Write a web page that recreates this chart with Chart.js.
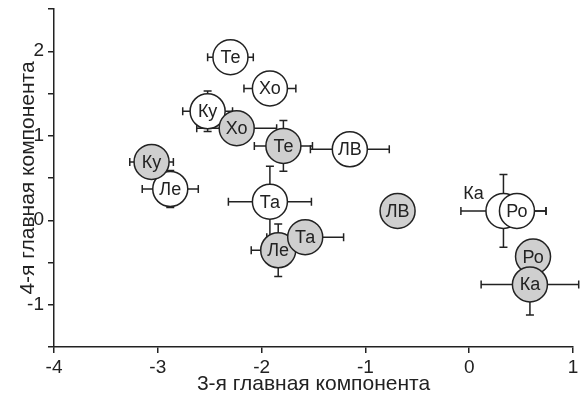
<!DOCTYPE html>
<html>
<head>
<meta charset="utf-8">
<script src="https://cdn.jsdelivr.net/npm/chart.js@4"></script>
<style>
  body { margin: 0; background: #fff; }
</style>
</head>
<body>
<canvas id="myChart" width="580" height="400"></canvas>
<script>
// white circles (open)
const whiteLabels = ['Ка', 'Ро', 'Те', 'Хо', 'Ку', 'Ле', 'Та', 'ЛВ'];
const whiteX      = [0.33, 0.46, -2.30, -1.92, -2.52, -2.88, -1.92, -1.15];
const whiteY      = [0.11, 0.11, 1.93, 1.56, 1.29, 0.37, 0.22, 0.84];
const whiteXErr   = [0.41, 0.28, 0.22, 0.25, 0.24, 0.27, 0.40, 0.38];
const whiteYErr   = [0.43, 0, 0, 0, 0.24, 0.22, 0.42, 0];

// grey circles (filled)
const greyLabels = ['Ку', 'Хо', 'Те', 'Ле', 'Та', 'ЛВ', 'Ро', 'Ка'];
const greyX      = [-3.06, -2.24, -1.79, -1.84, -1.58, -0.69, 0.615, 0.585];
const greyY      = [0.69, 1.09, 0.88, -0.355, -0.20, 0.11, -0.43, -0.76];
const greyXErr   = [0.21, 0.385, 0.28, 0.26, 0.37, 0, 0, 0.47];
const greyYErr   = [0, 0, 0.30, 0.31, 0, 0, 0, 0.36];

const xTitle = '3-я главная компонента';
const yTitle = '4-я главная компонента';

const ink = '#222';
const font = "'Liberation Sans', Arial, sans-serif";

const toPoints = (xs, ys, xe, ye) =>
    xs.map((x, i) => ({ x, y: ys[i], xErr: xe[i], yErr: ye[i] }));

// error bars go under every circle
const errorBars = {
    id: 'errorBars',
    beforeDatasetsDraw(chart) {
        const { ctx, scales: { x, y } } = chart;
        const cap = 4;
        ctx.save();
        ctx.strokeStyle = ink;
        ctx.lineWidth = 1.5;
        chart.data.datasets.forEach(ds => {
            ds.data.forEach(p => {
                const px = x.getPixelForValue(p.x);
                const py = y.getPixelForValue(p.y);
                ctx.beginPath();
                if (p.xErr) {
                    const l = x.getPixelForValue(p.x - p.xErr);
                    const r = x.getPixelForValue(p.x + p.xErr);
                    ctx.moveTo(l, py); ctx.lineTo(r, py);
                    ctx.moveTo(l, py - cap); ctx.lineTo(l, py + cap);
                    ctx.moveTo(r, py - cap); ctx.lineTo(r, py + cap);
                }
                if (p.yErr) {
                    const t = y.getPixelForValue(p.y + p.yErr);
                    const b = y.getPixelForValue(p.y - p.yErr);
                    ctx.moveTo(px, t); ctx.lineTo(px, b);
                    ctx.moveTo(px - cap, t); ctx.lineTo(px + cap, t);
                    ctx.moveTo(px - cap, b); ctx.lineTo(px + cap, b);
                }
                ctx.stroke();
            });
        });
        ctx.restore();
    }
};

// names written in the circles, right after each dataset is drawn
const circleLabels = {
    id: 'circleLabels',
    afterDatasetDraw(chart, args) {
        const ds = chart.data.datasets[args.index];
        const { ctx } = chart;
        ctx.save();
        ctx.fillStyle = ink;
        ctx.font = '18px ' + font;
        ctx.textAlign = 'center';
        ctx.textBaseline = 'middle';
        args.meta.data.forEach((pt, i) => {
            const off = (ds.labelOffsets || {})[i] || [0, 0];
            ctx.fillText(ds.names[i], pt.x + off[0], pt.y + off[1] + 1);
        });
        ctx.restore();
    }
};

new Chart(document.getElementById('myChart'), {
    type: 'scatter',
    data: {
        datasets: [
            {
                names: whiteLabels,
                data: toPoints(whiteX, whiteY, whiteXErr, whiteYErr),
                order: 1,
                pointRadius: 17.5,
                backgroundColor: '#fff',
                borderColor: ink,
                borderWidth: 1.5,
                labelOffsets: { 0: [-30, -18] }
            },
            {
                names: greyLabels,
                data: toPoints(greyX, greyY, greyXErr, greyYErr),
                order: 0,
                pointRadius: 17.5,
                backgroundColor: '#cfcfcf',
                borderColor: ink,
                borderWidth: 1.5
            }
        ]
    },
    options: {
        responsive: false,
        animation: false,
        events: [],
        layout: { autoPadding: false, padding: { left: 0, top: 9, right: 7, bottom: 0 } },
        plugins: {
            legend: { display: false },
            tooltip: { enabled: false }
        },
        scales: {
            x: {
                min: -4,
                max: 1,
                afterFit: s => { s.height = 53; s.paddingLeft = 0; s.paddingRight = 0; },
                ticks: { stepSize: 1, color: ink, padding: 3, font: { family: font, size: 19 } },
                grid: { drawOnChartArea: false, drawTicks: true, tickLength: 6, color: ink, lineWidth: 1.5 },
                border: { display: true, color: ink, width: 1.5 },
                title: { display: true, text: xTitle, color: ink, padding: { top: 0, bottom: 3 }, font: { family: font, size: 21 } }
            },
            y: {
                min: -1.5,
                max: 2.5,
                afterFit: s => { s.width = 54; s.paddingTop = 0; s.paddingBottom = 0; },
                ticks: {
                    stepSize: 0.5,
                    color: ink,
                    padding: 4,
                    font: { family: font, size: 19 },
                    callback: v => Number.isInteger(v) ? String(v) : ''
                },
                grid: { drawOnChartArea: false, drawTicks: true, tickLength: 6, color: ink, lineWidth: 1.5 },
                border: { display: true, color: ink, width: 1.5 },
                title: { display: true, text: yTitle, color: ink, padding: { top: 16, bottom: 0 }, font: { family: font, size: 21 } }
            }
        }
    },
    plugins: [errorBars, circleLabels]
});
</script>
</body>
</html>
